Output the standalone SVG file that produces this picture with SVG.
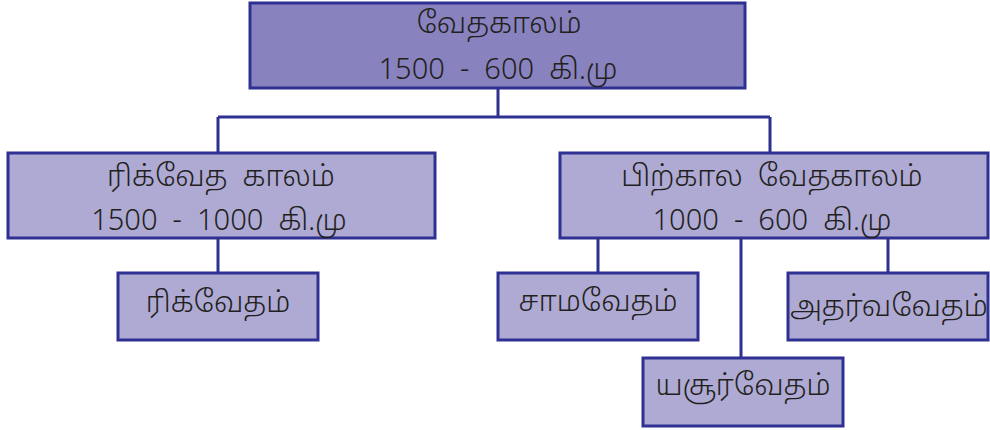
<svg xmlns="http://www.w3.org/2000/svg" width="990" height="430" viewBox="0 0 990 430">
<style>
.box{stroke:#2e3192;stroke-width:3}
.top{fill:#8883bf}
.sub{fill:#aeaad3}
.t{font-family:"Noto Sans Tamil","Noto Sans","Liberation Sans",sans-serif;font-size:29px;font-weight:300;fill:#231f20;text-anchor:middle}
.c{fill:none;stroke:#2e3192;stroke-width:3}
</style>
<rect width="990" height="430" fill="#ffffff"/>
<g id="connectors">
<path class="c" d="M498,88 V117 M218,117 H770 M218,117 V153 M770,117 V153"/>
<path class="c" d="M218,238 V273"/>
<path class="c" d="M598,238 V273 M741,238 V358 M888,238 V273"/>
</g>
<g id="vedic-period">
<rect class="box top" x="250" y="3" width="495" height="85"/>
<text class="t" x="499" y="33">வேதகாலம்</text>
<text class="t" x="498" y="79" xml:space="preserve">1500  -  600  கி.மு</text>
</g>
<g id="rig-vedic-period">
<rect class="box sub" x="8" y="153" width="427" height="85"/>
<text class="t" x="221" y="186" xml:space="preserve">ரிக்வேத  காலம்</text>
<text class="t" x="219" y="230" xml:space="preserve">1500  -  1000  கி.மு</text>
</g>
<g id="later-vedic-period">
<rect class="box sub" x="560" y="153" width="428" height="85"/>
<text class="t" x="772" y="186" xml:space="preserve">பிற்கால  வேதகாலம்</text>
<text class="t" x="772" y="230" xml:space="preserve">1000  -  600  கி.மு</text>
</g>
<g id="rigveda">
<rect class="box sub" x="118" y="273" width="200" height="67"/>
<text class="t" x="218" y="312">ரிக்வேதம்</text>
</g>
<g id="samaveda">
<rect class="box sub" x="498" y="273" width="200" height="67"/>
<text class="t" x="598" y="311">சாமவேதம்</text>
</g>
<g id="atharvaveda">
<rect class="box sub" x="788" y="273" width="200" height="67"/>
<text class="t" x="889" y="316">அதர்வவேதம்</text>
</g>
<g id="yajurveda">
<rect class="box sub" x="643" y="358" width="200" height="68"/>
<text class="t" x="743" y="395">யசூர்வேதம்</text>
</g>
</svg>
